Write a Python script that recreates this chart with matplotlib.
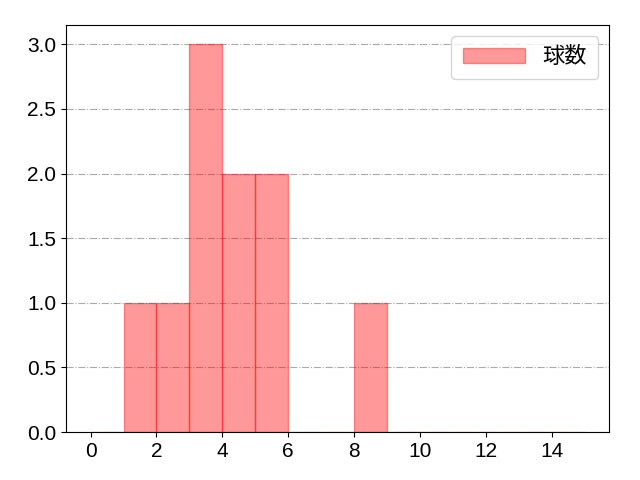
import matplotlib
matplotlib.use("Agg")
import matplotlib.pyplot as plt
import numpy as np

plt.rcParams['font.family'] = ['Liberation Sans', 'Noto Sans CJK JP']

# pitch counts per appearance
pitches = [1, 2, 3, 3, 3, 4, 4, 5, 5, 8]
bins = list(range(0, 16))
label = "球数"

fig, ax = plt.subplots(figsize=(6.4, 4.8), dpi=100)
ax.hist(pitches, bins=bins, color='#ff0000', alpha=0.4, edgecolor='#ff0000',
        linewidth=1, label=label)
ax.grid(axis='y', linestyle='-.', color='#aaaaaa', linewidth=0.8)
ax.set_axisbelow(True)
ax.set_xticks(range(0, 15, 2))
ax.tick_params(labelsize=15)
ax.legend(fontsize=16, handlelength=2.8, borderpad=0.5, loc='upper right')
fig.subplots_adjust(left=0.103, right=0.952, top=0.948, bottom=0.1)
fig.savefig("out.png")
